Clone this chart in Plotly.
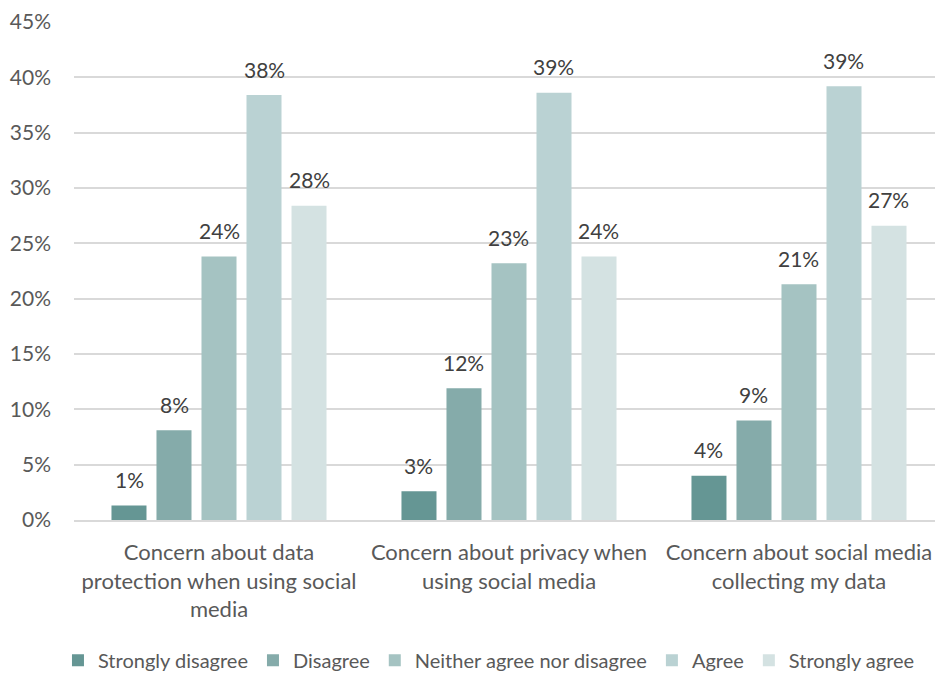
import plotly.graph_objects as go

# Survey categories (x axis) and answer options (series)
categories = [
    "Concern about data<br>protection when using social<br>media",
    "Concern about privacy when<br>using social media",
    "Concern about social media<br>collecting my data",
]
series_names = ["Strongly disagree", "Disagree", "Neither agree nor disagree",
                "Agree", "Strongly agree"]

strongly_disagree = [0.013, 0.026, 0.040]
disagree = [0.081, 0.119, 0.090]
neither = [0.238, 0.232, 0.213]
agree = [0.384, 0.386, 0.392]
strongly_agree = [0.284, 0.238, 0.266]

series_values = [strongly_disagree, disagree, neither, agree, strongly_agree]
colors = ["#659694", "#85abaa", "#a5c3c2", "#bad2d3", "#d4e2e2"]

FONT = "Lato, 'Open Sans', sans-serif"
slot_px = 45  # horizontal distance between neighbouring bars in a group

fig = go.Figure()
annotations = []
for i, (name, vals, col) in enumerate(zip(series_names, series_values, colors)):
    fig.add_trace(go.Bar(
        name=name, x=categories, y=vals,
        marker=dict(color=col, line=dict(width=0)),
    ))
    for cat, v in zip(categories, vals):
        annotations.append(dict(
            x=cat, y=v, xref="x", yref="y",
            text=f"{round(v * 100)}%", showarrow=False,
            xshift=(i - 2) * slot_px, yshift=26,
            font=dict(family=FONT, size=21, color="#404040"),
        ))

fig.update_layout(
    width=935, height=673,
    margin=dict(l=74, r=0, t=22, b=153, autoexpand=False),
    paper_bgcolor="white", plot_bgcolor="white",
    barmode="group", bargap=0.224, bargroupgap=0.222,
    font=dict(family=FONT, size=21, color="#595959"),
    annotations=annotations,
    showlegend=True,
    legend=dict(
        orientation="h", xref="container", yref="container",
        x=0.062, xanchor="left", y=0.019, yanchor="middle",
        font=dict(family=FONT, size=20, color="#595959"),
        traceorder="normal", itemwidth=30,
    ),
    xaxis=dict(
        range=[-0.5, 2.469], showgrid=False, showline=True,
        linecolor="#d9d9d9", linewidth=1.5, ticks="", automargin=False,
        tickfont=dict(family=FONT, size=22, color="#595959"),
        ticklabelstandoff=12,
    ),
    yaxis=dict(
        range=[0, 0.45], dtick=0.05, tickformat=".0%",
        showgrid=True, gridcolor="#d9d9d9", gridwidth=1.5, automargin=False,
        zeroline=False, showline=False, ticks="",
        tickfont=dict(family=FONT, size=21, color="#595959"),
        ticklabelstandoff=22,
    ),
)

fig.write_html("out.html")
